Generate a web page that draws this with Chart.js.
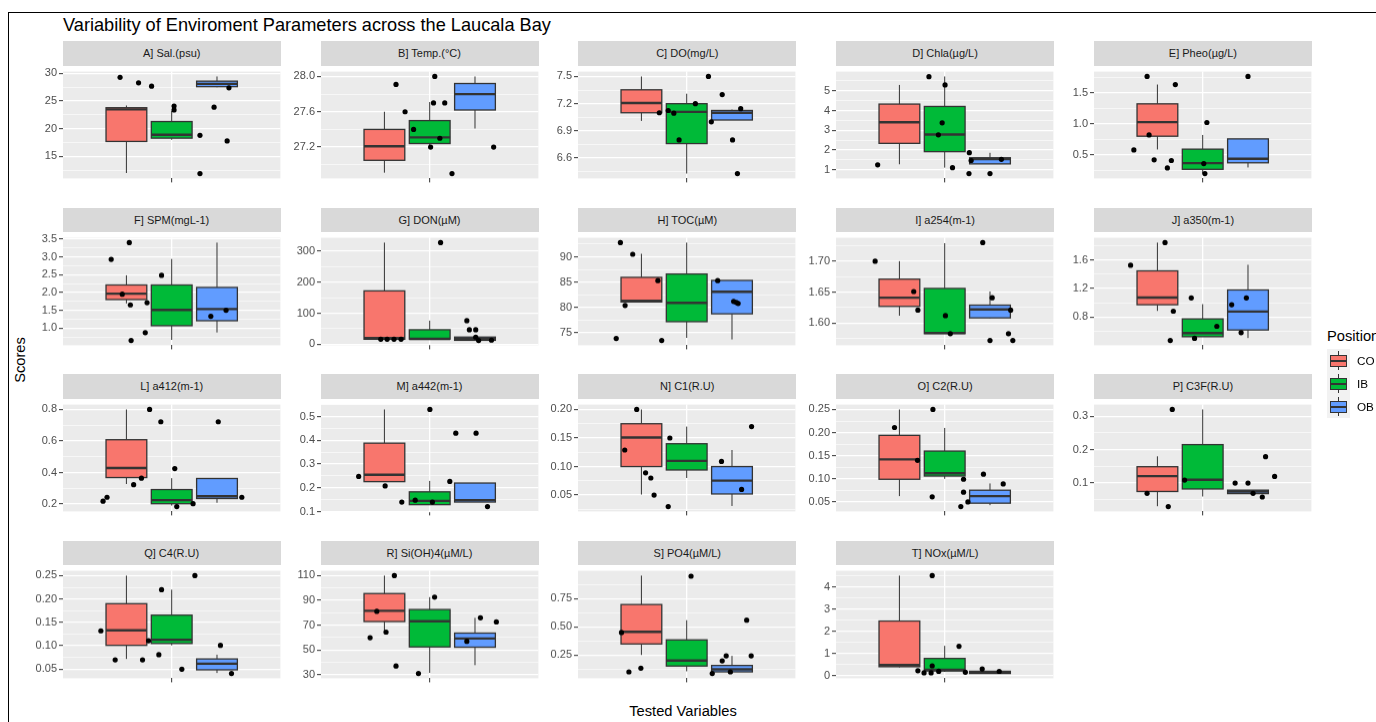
<!DOCTYPE html>
<html>
<head>
<meta charset="utf-8">
<script src="https://cdn.jsdelivr.net/npm/chart.js@4.4.1/dist/chart.umd.min.js"></script>
<style>
  html, body { margin: 0; padding: 0; background: #fff; overflow: hidden; }
  body { width: 1376px; height: 722px; position: relative; font-family: "Liberation Sans", Arial, sans-serif; }
  #frame { position: absolute; left: 8px; top: 12px; width: 1500px; height: 800px; border-top: 1px solid #000; border-left: 1px solid #000; }
  #title { position: absolute; left: 63px; top: 14px; line-height: 22px; font-size: 18.2px; color: #000; white-space: nowrap; }
  .strip { position: absolute; background: #D9D9D9; color: #1A1A1A; font-size: 11px; text-align: center; white-space: nowrap; }
  canvas { position: absolute; }
  #xtitle { position: absolute; left: 583px; width: 200px; top: 703px; text-align: center; font-size: 14.7px; color: #000; }
  #ytitle { position: absolute; left: -30px; top: 352px; width: 100px; text-align: center; font-size: 14.7px; color: #000; transform: rotate(-90deg); }
  #legtitle { position: absolute; left: 1327px; top: 328px; font-size: 14.7px; color: #000; white-space: nowrap; }
  .key { position: absolute; left: 1327px; width: 23px; height: 23px; background: #F2F2F2; }
  .key .wh { position: absolute; left: 11px; top: 2px; width: 1px; height: 19px; background: #333; }
  .key .bx { position: absolute; left: 3px; top: 6px; width: 15px; height: 10px; border: 1px solid #333; }
  .key .md { position: absolute; left: 0; top: 4px; width: 15px; height: 2px; background: #333; }
  .klab { position: absolute; left: 1357px; font-size: 11.7px; color: #000; line-height: 23px; }
</style>
</head>
<body>
<div id="frame"></div>
<div id="title">Variability of Enviroment Parameters across the Laucala Bay</div>
<div id="ytitle">Scores</div>
<div id="xtitle">Tested Variables</div>
<div id="legtitle">Position</div>
<script>
const groups = ['CO', 'IB', 'OB'];
const groupColors = ['#F8766D', '#00BA38', '#619CFF'];
const groupX = [0.75, 1.0, 1.25];
const boxWidth = 0.225;

const titles = ['A] Sal.(psu)', 'B] Temp.(°C)', 'C] DO(mg/L)', 'D] Chla(µg/L)', 'E] Pheo(µg/L)',
  'F] SPM(mgL-1)', 'G] DON(µM)', 'H] TOC(µM)', 'I] a254(m-1)', 'J] a350(m-1)',
  'L] a412(m-1)', 'M] a442(m-1)', 'N] C1(R.U)', 'O] C2(R.U)', 'P] C3F(R.U)',
  'Q] C4(R.U)', 'R] Si(OH)4(µM/L)', 'S] PO4(µM/L)', 'T] NOx(µM/L)'];

// box stats per panel: [lower whisker, Q1, median, Q3, upper whisker]
const boxCO = [
  [12.0, 17.7, 23.5, 23.8, 24.2], [26.91, 27.05, 27.21, 27.40, 27.6], [7.01, 7.10, 7.207, 7.353, 7.5],
  [1.28, 2.34, 3.41, 4.33, 5.30], [0.587, 0.80, 1.026, 1.32, 1.63], [1.69, 1.80, 1.966, 2.21, 2.48],
  [16, 16, 20, 172, 328], [81.1, 81.1, 81.3, 85.95, 90.6], [1.612, 1.627, 1.641, 1.671, 1.70],
  [0.886, 0.972, 1.071, 1.445, 1.84], [0.327, 0.368, 0.429, 0.608, 0.80], [0.226, 0.226, 0.255, 0.388, 0.53],
  [0.051, 0.10, 0.151, 0.175, 0.20], [0.0626, 0.099, 0.142, 0.194, 0.25], [0.031, 0.075, 0.121, 0.149, 0.18],
  [0.072, 0.101, 0.133, 0.19, 0.25], [64.6, 72.9, 81.6, 95.5, 110], [0.25, 0.348, 0.455, 0.698, 0.955],
  [0.37, 0.40, 0.47, 2.455, 4.5]];
const boxIB = [
  [18.0, 18.3, 18.9, 21.3, 23.2], [27.2, 27.24, 27.31, 27.5, 27.71], [6.43, 6.76, 7.11, 7.2, 7.31],
  [1.11, 1.92, 2.79, 4.21, 5.73], [0.2, 0.268, 0.368, 0.592, 0.82], [0.666, 1.065, 1.507, 2.21, 2.94],
  [16, 16.5, 17, 46.5, 76], [74.0, 77.2, 80.9, 86.6, 92.8], [1.583, 1.583, 1.584, 1.656, 1.729],
  [0.525, 0.525, 0.576, 0.774, 0.98], [0.19, 0.202, 0.225, 0.292, 0.364], [0.129, 0.129, 0.145, 0.183, 0.229],
  [0.080, 0.094, 0.11, 0.140, 0.17], [0.10, 0.106, 0.112, 0.160, 0.21], [0.06, 0.0825, 0.110, 0.215, 0.32],
  [0.101, 0.105, 0.113, 0.1655, 0.22], [31.5, 52.4, 73.1, 82.6, 92.6], [0.105, 0.152, 0.201, 0.384, 0.559],
  [0.166, 0.207, 0.262, 0.773, 1.34]];
const boxOB = [
  [27.5, 27.6, 28.1, 28.6, 29.45], [27.41, 27.62, 27.80, 27.92, 28.0], [7.02, 7.02, 7.10, 7.125, 7.135],
  [1.30, 1.30, 1.545, 1.61, 1.86], [0.298, 0.373, 0.438, 0.757, 0.757], [0.874, 1.204, 1.533, 2.14, 3.40],
  [12, 12.5, 17.8, 22.8, 22.8], [73.7, 78.75, 83.1, 85.34, 85.34], [1.608, 1.6085, 1.622, 1.629, 1.651],
  [0.507, 0.619, 0.877, 1.178, 1.53], [0.208, 0.235, 0.249, 0.362, 0.362], [0.14, 0.14, 0.148, 0.22, 0.22],
  [0.031, 0.052, 0.0754, 0.10, 0.129], [0.043, 0.0473, 0.0626, 0.0753, 0.09], [0.0687, 0.0687, 0.075, 0.079, 0.079],
  [0.042, 0.0487, 0.0619, 0.072, 0.081], [37.7, 52.2, 59.2, 63.6, 75.9], [0.086, 0.10, 0.122, 0.157, 0.242],
  [0.097, 0.097, 0.15, 0.193, 0.193]];

// jittered observations: x position on the shared discrete axis, and value
const pointX = [
  [0.715, 0.817, 0.889, 1.013, 1.013, 1.156, 1.156, 1.234, 1.306, 1.316],
  [0.814, 0.864, 0.911, 1.005, 1.028, 1.021, 1.056, 1.083, 1.123, 1.353],
  [0.849, 0.898, 0.929, 0.958, 1.048, 1.12, 1.136, 1.196, 1.253, 1.28, 1.298],
  [0.630, 0.913, 1.002, 0.986, 0.965, 1.043, 1.136, 1.146, 1.134, 1.25, 1.313],
  [0.693, 0.849, 0.704, 0.62, 0.732, 0.827, 0.805, 1.023, 1.006, 1.012, 1.25],
  [0.666, 0.766, 0.727, 0.772, 0.864, 0.854, 0.776, 0.944, 1.216, 1.30],
  [0.73, 0.765, 0.803, 0.842, 1.06, 1.205, 1.219, 1.254, 1.254, 1.27, 1.341],
  [0.634, 0.702, 0.66, 0.611, 0.841, 0.862, 1.171, 1.259, 1.274, 1.284],
  [0.616, 0.829, 0.852, 1.004, 1.031, 1.21, 1.262, 1.25, 1.352, 1.364, 1.376],
  [0.602, 0.792, 0.838, 0.821, 0.937, 0.955, 1.078, 1.16, 1.241, 1.212],
  [0.621, 0.643, 0.79, 0.833, 0.878, 0.94, 1.017, 1.028, 1.118, 1.257, 1.387],
  [0.608, 0.754, 0.846, 0.92, 1.015, 1.001, 1.111, 1.144, 1.256, 1.319],
  [0.658, 0.724, 0.773, 0.802, 0.82, 0.898, 0.907, 1.192, 1.303, 1.358],
  [0.723, 0.85, 0.935, 0.931, 1.104, 1.104, 1.128, 1.089, 1.214, 1.323],
  [0.693, 0.81, 0.832, 0.9, 1.179, 1.25, 1.278, 1.329, 1.347, 1.397],
  [0.609, 0.688, 0.839, 0.872, 0.929, 0.944, 1.056, 1.128, 1.269, 1.33],
  [0.671, 0.708, 0.759, 0.805, 0.814, 0.938, 1.027, 1.205, 1.28, 1.368],
  [0.64, 0.681, 0.747, 1.024, 1.141, 1.196, 1.218, 1.241, 1.331, 1.356],
  [0.931, 1.079, 0.931, 0.852, 0.886, 0.925, 0.967, 1.114, 1.207, 1.301]];
const pointY = [
  [29.3, 28.3, 27.7, 24.1, 23.4, 18.8, 11.9, 23.9, 17.8, 27.4],
  [27.91, 27.6, 27.4, 27.2, 28.0, 27.7, 27.3, 27.7, 26.9, 27.2],
  [7.10, 7.125, 7.095, 6.80, 7.2, 7.5, 7.0, 7.30, 6.80, 6.43, 7.145],
  [1.25, 5.72, 5.30, 3.38, 2.77, 1.11, 1.87, 1.47, 0.81, 0.81, 1.53],
  [1.76, 1.63, 0.82, 0.58, 0.42, 0.41, 0.29, 1.02, 0.36, 0.20, 1.76],
  [2.93, 3.40, 1.95, 1.65, 1.71, 0.87, 0.65, 2.48, 1.33, 1.50],
  [16, 16, 16, 16, 328, 76, 46.5, 46.5, 22.8, 12, 12.9],
  [92.8, 90.5, 80.4, 73.9, 85.3, 73.5, 85.3, 81.2, 81.0, 80.8],
  [1.70, 1.651, 1.621, 1.612, 1.583, 1.730, 1.641, 1.572, 1.583, 1.621, 1.572],
  [1.523, 1.84, 0.882, 0.473, 1.067, 0.503, 0.671, 0.972, 1.067, 0.581],
  [0.218, 0.243, 0.323, 0.364, 0.80, 0.722, 0.425, 0.184, 0.202, 0.722, 0.243],
  [0.248, 0.208, 0.14, 0.148, 0.14, 0.53, 0.227, 0.43, 0.43, 0.121],
  [0.129, 0.20, 0.089, 0.08, 0.05, 0.03, 0.150, 0.109, 0.06, 0.17],
  [0.211, 0.140, 0.25, 0.061, 0.099, 0.071, 0.05, 0.040, 0.110, 0.089],
  [0.0696, 0.03, 0.32, 0.109, 0.10, 0.10, 0.0696, 0.0585, 0.179, 0.12],
  [0.132, 0.070, 0.070, 0.111, 0.081, 0.22, 0.05, 0.25, 0.101, 0.041],
  [59.9, 81.1, 64.4, 110, 37.0, 31.0, 92.6, 56.9, 75.9, 72.6],
  [0.45, 0.10, 0.133, 0.95, 0.086, 0.198, 0.242, 0.10, 0.559, 0.242],
  [4.5, 1.32, 0.44, 0.22, 0.124, 0.124, 0.193, 0.152, 0.30, 0.19]];

const tickLabels = [
  ['15', '20', '25', '30'], ['27.2', '27.6', '28.0'], ['6.6', '6.9', '7.2', '7.5'],
  ['1', '2', '3', '4', '5'], ['0.5', '1.0', '1.5'], ['1.0', '1.5', '2.0', '2.5', '3.0', '3.5'],
  ['0', '100', '200', '300'], ['75', '80', '85', '90'], ['1.60', '1.65', '1.70'],
  ['0.8', '1.2', '1.6'], ['0.2', '0.4', '0.6', '0.8'], ['0.1', '0.2', '0.3', '0.4', '0.5'],
  ['0.05', '0.10', '0.15', '0.20'], ['0.05', '0.10', '0.15', '0.20', '0.25'], ['0.1', '0.2', '0.3'],
  ['0.05', '0.10', '0.15', '0.20', '0.25'], ['30', '50', '70', '90', '110'], ['0.25', '0.50', '0.75'],
  ['0', '1', '2', '3', '4']];

// layout of the facet grid
const panelLeft0 = 62.7, panelStep = 257.8, panelW = 218;
const rowTop0 = 41.3, rowStep = 166.5, stripH = 24.5, panelH = 115.7;
const axisW = 40;

function makeBoxPlugin(p) {
  return {
    id: 'boxes' + p,
    beforeDraw(chart) {
      const a = chart.chartArea, ctx = chart.ctx;
      ctx.save();
      ctx.fillStyle = '#EBEBEB';
      ctx.fillRect(a.left, a.top, a.right - a.left, a.bottom - a.top);
      ctx.restore();
    },
    beforeDatasetsDraw(chart) {
      const ctx = chart.ctx, xs = chart.scales.x, ys = chart.scales.y;
      ctx.save();
      [boxCO, boxIB, boxOB].forEach((set, g) => {
        const s = set[p].map(v => ys.getPixelForValue(v));
        const cx = xs.getPixelForValue(groupX[g]);
        const x0 = xs.getPixelForValue(groupX[g] - boxWidth / 2);
        const x1 = xs.getPixelForValue(groupX[g] + boxWidth / 2);
        ctx.strokeStyle = '#333333';
        ctx.lineWidth = 1;
        ctx.beginPath();
        ctx.moveTo(cx, s[4]); ctx.lineTo(cx, s[3]);
        ctx.moveTo(cx, s[1]); ctx.lineTo(cx, s[0]);
        ctx.stroke();
        ctx.fillStyle = groupColors[g];
        ctx.fillRect(x0, s[3], x1 - x0, s[1] - s[3]);
        ctx.lineWidth = 1.3;
        ctx.strokeRect(x0, s[3], x1 - x0, s[1] - s[3]);
        ctx.lineWidth = 2.4;
        ctx.beginPath();
        ctx.moveTo(x0, s[2]); ctx.lineTo(x1, s[2]);
        ctx.stroke();
      });
      ctx.restore();
    }
  };
}

titles.forEach((title, p) => {
  const col = p % 5, row = Math.floor(p / 5);
  const left = panelLeft0 + col * panelStep;
  const top = rowTop0 + row * rowStep;

  const strip = document.createElement('div');
  strip.className = 'strip';
  strip.style.left = left + 'px';
  strip.style.top = top + 'px';
  strip.style.width = panelW + 'px';
  strip.style.height = stripH + 'px';
  strip.style.lineHeight = stripH + 'px';
  strip.textContent = title;
  document.body.appendChild(strip);

  const cv = document.createElement('canvas');
  const cw = panelW + axisW + 2, chh = panelH + 3 + 6;
  cv.width = cw; cv.height = chh;
  cv.style.width = cw + 'px'; cv.style.height = chh + 'px';
  cv.style.left = (left - axisW) + 'px';
  cv.style.top = (top + stripH - 3) + 'px';
  document.body.appendChild(cv);

  const all = pointY[p].concat(boxCO[p], boxIB[p], boxOB[p]);
  const lo = Math.min(...all), hi = Math.max(...all), pad = (hi - lo) * 0.05;
  const majors = tickLabels[p].map(Number);
  const step = majors[1] - majors[0];

  new Chart(cv, {
    type: 'scatter',
    data: {
      datasets: [{
        data: pointX[p].map((x, j) => ({ x: x, y: pointY[p][j] })),
        backgroundColor: '#000000',
        borderWidth: 0,
        pointRadius: 2.6,
        pointHoverRadius: 2.6
      }]
    },
    options: {
      responsive: false,
      animation: false,
      devicePixelRatio: 1,
      events: [],
      layout: { padding: { top: 3, right: 2, left: 0, bottom: 0 } },
      plugins: { legend: { display: false }, tooltip: { enabled: false } },
      scales: {
        x: {
          type: 'linear', min: 0.4, max: 1.6,
          afterBuildTicks: s => { s.ticks = [{ value: 1 }]; },
          afterFit: s => { s.height = 6; },
          border: { display: false },
          grid: { color: '#FFFFFF', lineWidth: 1.3, tickColor: '#333333', tickLength: 4, tickWidth: 1 },
          ticks: { callback: () => '' }
        },
        y: {
          type: 'linear', min: lo - pad, max: hi + pad,
          afterBuildTicks: s => {
            const t = [];
            majors.forEach((v, k) => t.push({ value: v, isMajor: true, lab: tickLabels[p][k] }));
            const minors = [majors[0] - step / 2].concat(majors.map(v => v + step / 2));
            minors.forEach(v => { if (v > s.min && v < s.max) t.push({ value: v, isMajor: false, lab: '' }); });
            t.sort((a, b) => a.value - b.value);
            s.ticks = t;
          },
          afterFit: s => { s.width = axisW; },
          border: { display: false },
          grid: {
            color: '#FFFFFF',
            lineWidth: c => (c.tick && c.tick.isMajor ? 1.3 : 0.6),
            tickColor: c => (c.tick && c.tick.isMajor ? '#333333' : 'rgba(0,0,0,0)'),
            tickLength: 4,
            tickWidth: 1
          },
          ticks: {
            autoSkip: false,
            padding: 2,
            color: '#4D4D4D',
            font: { family: '"Liberation Sans", Arial, sans-serif', size: 11 },
            callback: (v, i, ticks) => ticks[i].lab || ''
          }
        }
      }
    },
    plugins: [makeBoxPlugin(p)]
  });
});

// legend
groups.forEach((g, k) => {
  const top = 349 + k * 23;
  const key = document.createElement('div');
  key.className = 'key';
  key.style.top = top + 'px';
  key.innerHTML = '<div class="wh"></div><div class="bx" style="background:' + groupColors[k] + '"><div class="md"></div></div>';
  document.body.appendChild(key);
  const lab = document.createElement('div');
  lab.className = 'klab';
  lab.style.top = top + 'px';
  lab.textContent = g;
  document.body.appendChild(lab);
});
</script>
</body>
</html>
